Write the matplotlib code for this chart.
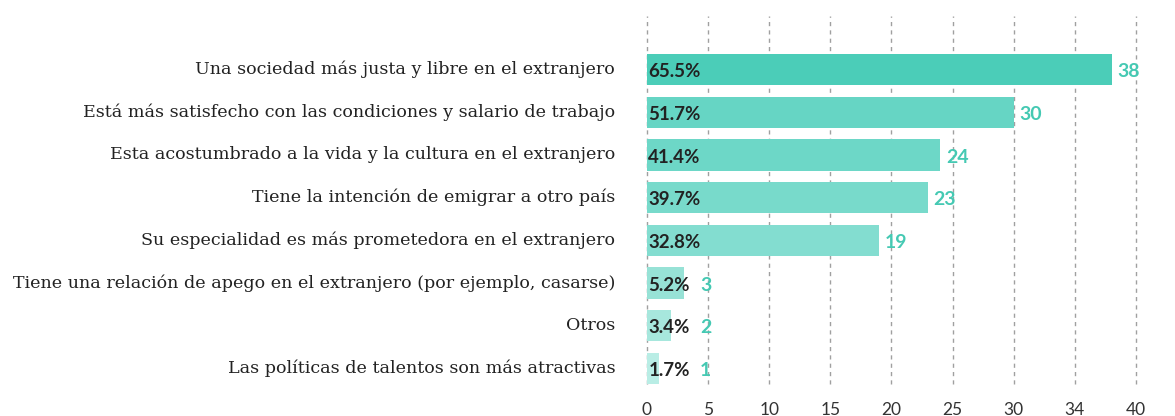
import matplotlib
matplotlib.use('Agg')
import matplotlib.pyplot as plt

# data
categories = [
    'Una sociedad más justa y libre en el extranjero',
    'Está más satisfecho con las condiciones y salario de trabajo',
    'Esta acostumbrado a la vida y la cultura en el extranjero',
    'Tiene la intención de emigrar a otro país',
    'Su especialidad es más prometedora en el extranjero',
    'Tiene una relación de apego en el extranjero (por ejemplo, casarse)',
    'Otros',
    'Las políticas de talentos son más atractivas',
]
counts = [38, 30, 24, 23, 19, 3, 2, 1]
percents = ['65.5%', '51.7%', '41.4%', '39.7%', '32.8%', '5.2%', '3.4%', '1.7%']
tick_values = [0, 5, 10, 15, 20, 25, 30, 35, 40]
tick_labels = ['0', '5', '10', '15', '20', '25', '30', '34', '40']

bar_colors = ['#4bcdb8', '#66d5c4', '#6dd7c7', '#78dacb', '#83ddd0',
              '#97e2d6', '#a7e7dd', '#b9ede5']
teal = '#45c9b3'
dark = '#222222'

fig = plt.figure(figsize=(11.75, 4.16), dpi=100)
ax = fig.add_axes([0.5506, 0.0764, 0.9668 - 0.5506, 0.9615 - 0.0764])

y = list(range(len(categories)))
ax.barh(y, counts, height=0.73, color=bar_colors, zorder=2)

ax.set_xlim(0, 40)
ax.set_ylim(7.37, -1.253)

# dashed vertical grid behind bars
for t in tick_values:
    ax.axvline(t, color='#a0a0a0', linestyle=(0, (3, 3)), linewidth=1,
               zorder=1, clip_on=False)

ax.set_xticks(tick_values)
ax.set_xticklabels(tick_labels, family='Lato', fontsize=12.5, color='#333333')
ax.tick_params(axis='x', length=0, pad=13)
ax.set_yticks([])
for s in ax.spines.values():
    s.set_visible(False)

# category names on the left
for yi, name in zip(y, categories):
    ax.text(-2.6, yi, name, ha='right', va='center', family='DejaVu Serif',
            fontsize=12.6, color='#222222')

# percentage inside bar, count after bar
for yi, c, p in zip(y, counts, percents):
    ax.text(0.12, yi + 0.05, p, ha='left', va='center', family='Lato',
            fontweight='bold', fontsize=13.5, color=dark, zorder=3)
    ax.text(max(c, 3.9) + 0.45, yi + 0.05, str(c), ha='left', va='center',
            family='Lato', fontweight='bold', fontsize=14, color=teal, zorder=3)

fig.savefig('out.png', dpi=100)
